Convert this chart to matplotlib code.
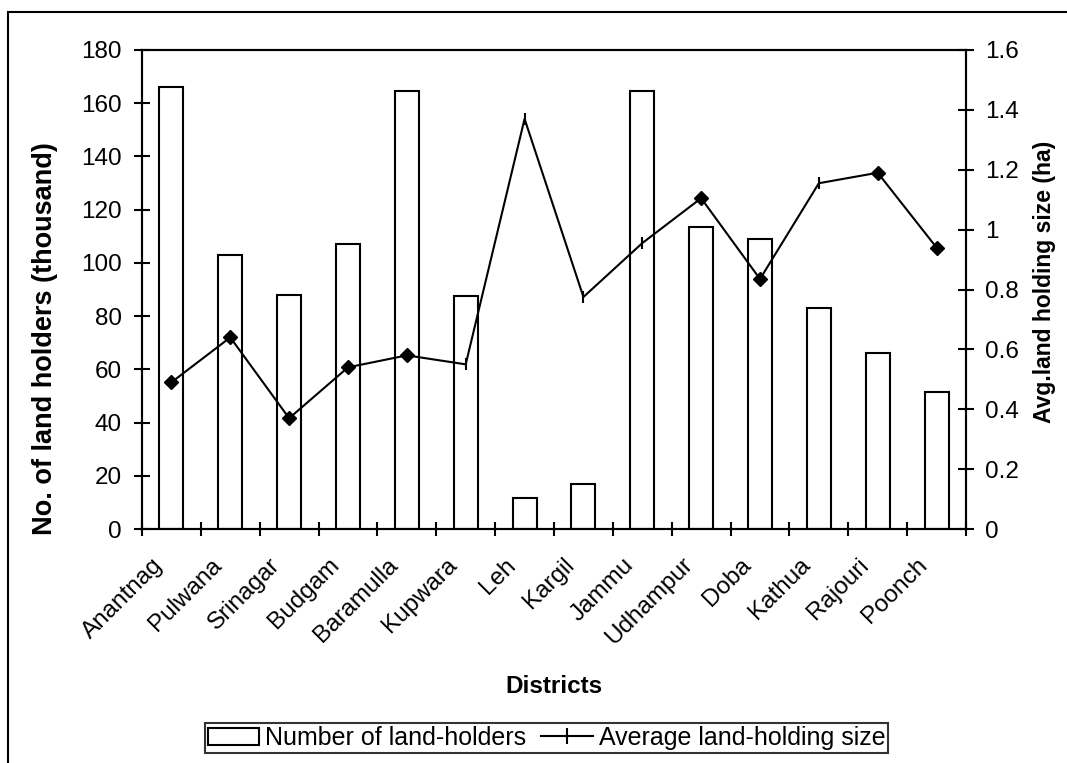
import matplotlib
matplotlib.use("Agg")
import matplotlib.pyplot as plt
import numpy as np
from matplotlib.patches import Rectangle
from matplotlib.lines import Line2D
from matplotlib.ticker import FixedLocator, FuncFormatter, NullFormatter

plt.rcParams['font.family'] = ['Liberation Sans', 'DejaVu Sans']

# District-wise land holders (thousand) and average holding size (ha)
districts = ["Anantnag", "Pulwana", "Srinagar", "Budgam", "Baramulla", "Kupwara",
             "Leh", "Kargil", "Jammu", "Udhampur", "Doba", "Kathua", "Rajouri", "Poonch"]
holders = [166, 103, 88, 107, 164.5, 87.5, 11.5, 17, 164.5, 113.5, 109, 83, 66, 51.5]
avg_size = [0.49, 0.64, 0.37, 0.54, 0.58, 0.55, 1.37, 0.775, 0.955, 1.105, 0.835,
            1.155, 1.19, 0.94]
point_markers = ['D', 'D', 'D', 'D', 'D', '|', '|', '|', '|', 'D', 'D', '|', 'D', 'D']

W, H = 1067, 763
FS = 17.5
LW = 1.5

fig = plt.figure(figsize=(W / 100, H / 100), dpi=100)
ax = fig.add_axes([142 / W, 1 - 529 / H, (966 - 142) / W, (529 - 50) / H])

n = len(districts)
x = np.arange(n) + 0.5
bars = ax.bar(x, holders, width=0.41, facecolor='white', edgecolor='black',
              linewidth=LW, zorder=2, label='Number of land-holders')

ax.set_xlim(0, n)
ax.set_ylim(0, 180)
ax.set_yticks(np.arange(0, 181, 20))
ax.xaxis.set_major_locator(FixedLocator(np.arange(n + 1)))
ax.xaxis.set_major_formatter(NullFormatter())
ax.xaxis.set_minor_locator(FixedLocator(x - 0.34))
ax.set_xticklabels(districts, minor=True, rotation=45, ha='right', va='top',
                   rotation_mode='anchor', fontsize=FS)
ax.tick_params(axis='x', which='minor', length=0, pad=18)
ax.tick_params(axis='x', which='major', direction='inout', length=10, width=LW)
ax.tick_params(axis='y', direction='inout', length=11, width=LW, labelsize=FS, pad=9)
for s in ax.spines.values():
    s.set_linewidth(LW)

ax2 = ax.twinx()
ax2.set_ylim(0, 1.6)
ax2.set_yticks(np.arange(0, 1.61, 0.2))
ax2.yaxis.set_major_formatter(FuncFormatter(lambda v, p: f"{v:g}"))
ax2.tick_params(axis='y', direction='inout', length=11, width=LW, labelsize=FS, pad=8)
for s in ax2.spines.values():
    s.set_linewidth(LW)

ax2.plot(x, avg_size, color='black', lw=LW, zorder=3)
vals = np.array(avg_size)
mk = np.array(point_markers)
for m in ['D', '|']:
    sel = mk == m
    if m == 'D':
        ax2.plot(x[sel], vals[sel], linestyle='none', marker='D', markersize=7.5,
                 color='black', zorder=4)
    else:
        ax2.plot(x[sel], vals[sel], linestyle='none', marker='|', markersize=9,
                 markeredgewidth=LW, color='black', zorder=4)

# Axis titles
fig.text(45.5 / W, 1 - 535 / H, "No. of land holders (thousand)", rotation=90,
         ha='center', va='bottom', fontsize=19.5, fontweight='bold')
fig.text(1045 / W, 1 - 423 / H, "Avg.land holding size (ha)", rotation=90,
         ha='center', va='bottom', fontsize=16.5, fontweight='bold')
fig.text(554 / W, 1 - 693 / H, "Districts", ha='center', va='baseline',
         fontsize=FS, fontweight='bold')

# Legend
line_handle = Line2D([], [], color='black', lw=LW, marker='|', markersize=12,
                     markeredgewidth=LW)
leg = fig.legend([bars, line_handle],
                 ["Number of land-holders", "Average land-holding size"],
                 loc='upper left', bbox_to_anchor=(205 / W, 1 - 723 / H),
                 ncol=2, fontsize=18, frameon=True, fancybox=False,
                 edgecolor='black', handlelength=2.05, handletextpad=0.24,
                 columnspacing=0.6, borderpad=0.12, borderaxespad=0)
leg.get_frame().set_linewidth(LW)

# Outer chart border
fig.add_artist(Rectangle((8 / W, -0.1), 1.2, 1 - 12 / H + 0.1,
                         transform=fig.transFigure, fill=False,
                         edgecolor='black', linewidth=LW))

fig.savefig("out.png", dpi=100)
